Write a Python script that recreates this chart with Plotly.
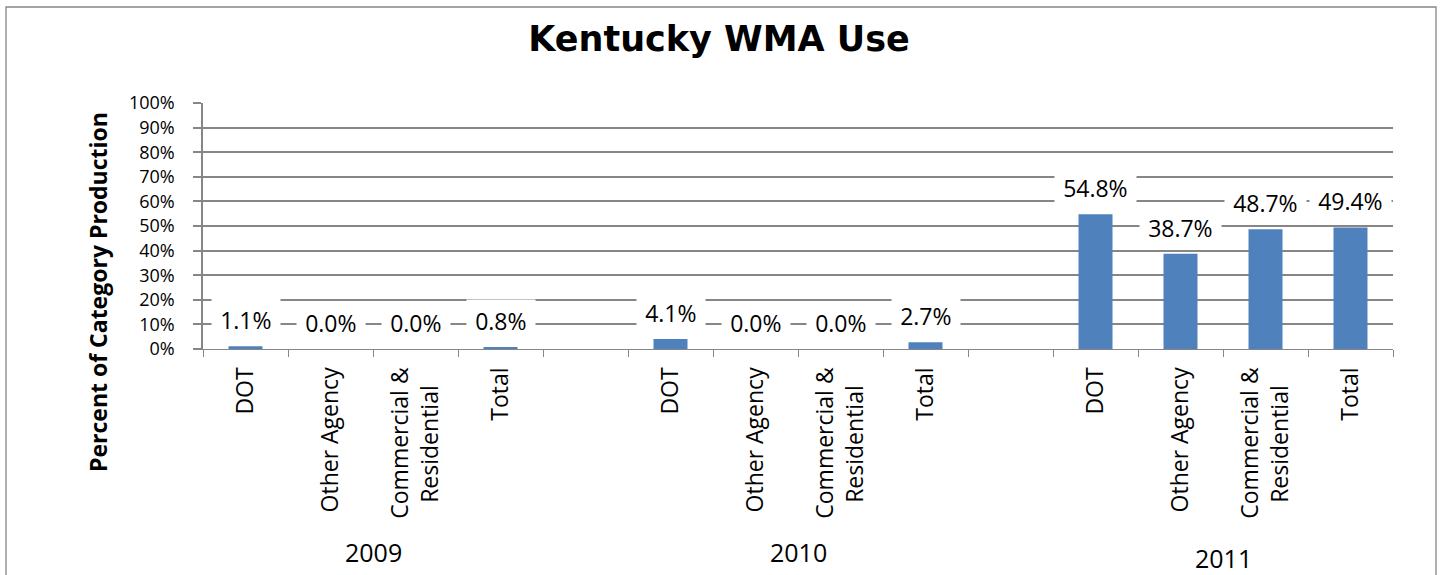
import plotly.graph_objects as go

# ---------------- data ----------------
years = ["2009", "2010", "2011"]
groups = ["DOT", "Other Agency", "Commercial &<br>Residential\u00a0\u00a0\u00a0", "Total"]
values_2009 = [1.1, 0.0, 0.0, 0.8]
values_2010 = [4.1, 0.0, 0.0, 2.7]
values_2011 = [54.8, 38.7, 48.7, 49.4]
y_ticks = [0, 10, 20, 30, 40, 50, 60, 70, 80, 90, 100]

title_text = "Kentucky WMA Use"
y_title = "Percent of Category Production"

# ---------------- layout geometry ----------------
W, H = 1442, 575
L, R, T, B = 203, 49, 103, 226
pw, ph = W - L - R, H - T - B


def px_x(px):
    return (px - L) / pw


def px_y(py):
    return (H - B - py) / ph


GRID = "#868686"
BAR = "#4F81BD"
FONT = "Open Sans"

# categories with an empty slot between years
cats, ticktext, xs, ys = [], [], [], []
group_ranges = []
for i, (yr, vals) in enumerate(zip(years, [values_2009, values_2010, values_2011])):
    start = len(cats)
    for g, v in zip(groups, vals):
        key = f"{yr} {g}"
        cats.append(key)
        ticktext.append(g)
        xs.append(key)
        ys.append(v)
    group_ranges.append((start, len(cats) - 1))
    if i < len(years) - 1:
        cats.append(f"gap{i}")
        ticktext.append("")

fig = go.Figure()
fig.add_trace(go.Bar(x=xs, y=ys, marker=dict(color=BAR, line=dict(width=0)),
                     width=0.4, hoverinfo="y"))

annotations = []
pad_span = '<span style="font-size:12px">\u00a0</span>'
for x, v in zip(xs, ys):
    annotations.append(dict(
        x=x, y=v, xref="x", yref="y", text=f"{pad_span}{v:.1f}%{pad_span}",
        showarrow=False, yanchor="middle", xanchor="center", yshift=26,
        bgcolor="white", borderpad=5,
        font=dict(family=FONT, size=23, color="black")))

# year labels under each group
year_y = [551.7, 551.7, 558]
for yr, (a, b), yy in zip(years, group_ranges, year_y):
    annotations.append(dict(
        x=(a + b) / 2, y=px_y(yy), xref="x", yref="paper", text=yr,
        showarrow=False, xanchor="center", yanchor="middle",
        font=dict(family=FONT, size=25, color="black")))

# y axis title
annotations.append(dict(
    x=px_x(98), y=px_y(292), xref="paper", yref="paper", text=f"<b>{y_title}</b>",
    textangle=-90, showarrow=False, xanchor="center", yanchor="middle",
    font=dict(family=FONT, size=23, color="black")))

fig.update_layout(
    width=W, height=H,
    margin=dict(l=L, r=R, t=T, b=B, pad=0),
    paper_bgcolor="white", plot_bgcolor="white",
    showlegend=False,
    title=dict(text=f"<b>{title_text}</b>", x=719 / W, xref="container", xanchor="center",
               y=1 - 38.7 / H, yref="container", yanchor="middle",
               font=dict(family="DejaVu Sans", size=35, color="black")),
    annotations=annotations,
    shapes=[dict(type="rect", xref="paper", yref="paper",
                 x0=px_x(6), x1=px_x(1436), y0=px_y(7), y1=px_y(620),
                 line=dict(color=GRID, width=1.3), fillcolor="rgba(0,0,0,0)", layer="below")],
    xaxis=dict(type="category", categoryorder="array", categoryarray=cats,
               tickmode="array", tickvals=cats, ticktext=ticktext, tickangle=-90,
               tickson="boundaries", ticks="outside", ticklen=7, tickcolor=GRID, tickwidth=1.3,
               showline=True, linecolor=GRID, linewidth=1.3, showgrid=False,
               range=[-0.5, len(cats) - 0.5], fixedrange=True,
               tickfont=dict(family=FONT, size=23, color="black"), ticklabelstandoff=8),
    yaxis=dict(range=[0, 100], tickmode="array", tickvals=y_ticks,
               ticktext=[f"{t}%" for t in y_ticks],
               showgrid=True, gridcolor=GRID, gridwidth=1.5, zeroline=False,
               showline=True, linecolor=GRID, linewidth=1.5,
               ticks="outside", ticklen=8, tickcolor=GRID, tickwidth=1.5,
               tickfont=dict(family=FONT, size=18, color="black"), ticklabelstandoff=15,
               fixedrange=True),
    bargap=0.6,
)

fig.write_html("out.html", config={"displayModeBar": False},
               post_script="document.body.style.margin='0px';document.body.style.overflow='hidden';")
